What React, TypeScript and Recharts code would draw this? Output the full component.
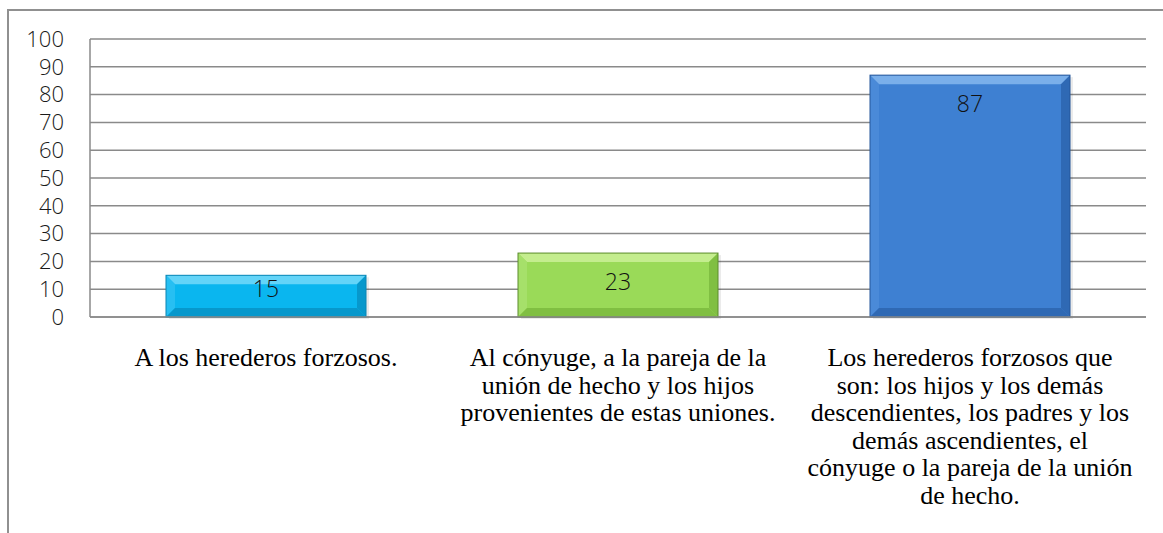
import React from 'react';
import { BarChart, Bar, XAxis, YAxis, CartesianGrid, LabelList } from 'recharts';

const categories = ['A', 'B', 'C'];
const values = [15, 23, 87];
const tickLabels: string[][] = [
  ['A los herederos forzosos.'],
  ['Al cónyuge, a la pareja de la', 'unión de hecho y los hijos', 'provenientes de estas uniones.'],
  [
    'Los herederos forzosos que',
    'son: los hijos y los demás',
    'descendientes, los padres y los',
    'demás ascendientes, el',
    'cónyuge o la pareja de la unión',
    'de hecho.',
  ],
];
const yTicks = [0, 10, 20, 30, 40, 50, 60, 70, 80, 90, 100];

const palettes = [
  { base: '#0AB6EF', light: '#63D4F8', side: '#27BFF2', dark: '#0798CC', edge: '#0A86B4' },
  { base: '#9ADA58', light: '#C4ED8E', side: '#A6E06A', dark: '#80BF42', edge: '#5C8C2C' },
  { base: '#3E80D2', light: '#7AAFEA', side: '#4A8AD8', dark: '#2F69B4', edge: '#24569A' },
];

const data = categories.map((c, i) => ({ key: c, value: values[i], idx: i }));

const BevelBar = (props: any) => {
  const { x, y, width: w, height: h, index } = props;
  const c = palettes[index % palettes.length];
  const b = Math.min(9, w / 4, h / 4);
  return (
    <g>
      <rect x={x + 3} y={y + 2} width={w} height={h} fill="rgba(0,0,0,0.08)" />
      <rect x={x} y={y} width={w} height={h} fill={c.base} />
      <polygon points={`${x},${y} ${x + w},${y} ${x + w - b},${y + b} ${x + b},${y + b}`} fill={c.light} />
      <polygon points={`${x},${y} ${x + b},${y + b} ${x + b},${y + h - b} ${x},${y + h}`} fill={c.side} />
      <polygon points={`${x + w},${y} ${x + w},${y + h} ${x + w - b},${y + h - b} ${x + w - b},${y + b}`} fill={c.dark} />
      <polygon points={`${x},${y + h} ${x + b},${y + h - b} ${x + w - b},${y + h - b} ${x + w},${y + h}`} fill={c.dark} />
      <rect x={x} y={y} width={w} height={h} fill="none" stroke={c.edge} strokeWidth={1} />
    </g>
  );
};

const ValueLabel = (props: any) => {
  const { x, y, width, height, value } = props;
  const cy = Math.min(y + 28, y + height - 29);
  return (
    <text
      x={x + width / 2}
      y={cy}
      textAnchor="middle"
      dominantBaseline="central"
      fontFamily="'Open Sans', sans-serif"
      fontWeight={300}
      fontSize={23}
      fill="#111"
    >
      {value}
    </text>
  );
};

const CategoryTick = (props: any) => {
  const { x, y, payload } = props;
  const lines = tickLabels[payload.index] || [];
  return (
    <text
      x={x}
      y={y + 41}
      textAnchor="middle"
      fontFamily="'Liberation Serif', 'Times New Roman', serif"
      fontSize={26}
      fill="#000"
    >
      {lines.map((l, i) => (
        <tspan key={i} x={x} dy={i === 0 ? 0 : 27.6}>
          {l}
        </tspan>
      ))}
    </text>
  );
};

export default function App() {
  return (
    <div style={{ position: 'fixed', left: 0, top: 0, width: 1163, height: 533, overflow: 'hidden', background: '#fff' }}>
      <div
        style={{
          position: 'absolute',
          left: 7,
          top: 9,
          width: 1300,
          height: 700,
          border: '2px solid #909090',
          boxSizing: 'border-box',
        }}
      />
      <div style={{ position: 'absolute', left: 0, top: 0 }}>
        <BarChart
          width={1163}
          height={533}
          data={data}
          margin={{ top: 39, right: 17, left: 30, bottom: 16 }}
          barSize={200}
        >
          <CartesianGrid vertical={false} stroke="#8a8a8a" strokeWidth={1.5} />
          <XAxis
            dataKey="key"
            axisLine={{ stroke: '#8a8a8a', strokeWidth: 1.5 }}
            tickLine={false}
            height={200}
            interval={0}
            tick={<CategoryTick />}
          />
          <YAxis
            domain={[0, 100]}
            ticks={yTicks}
            width={60}
            axisLine={{ stroke: '#8a8a8a', strokeWidth: 1.5 }}
            tickLine={false}
            tickMargin={20}
            tick={{ fontFamily: "'Open Sans', sans-serif", fontWeight: 300, fontSize: 22, fill: '#1a1a1a' }}
            interval={0}
          />
          <Bar dataKey="value" shape={<BevelBar />} isAnimationActive={false}>
            <LabelList dataKey="value" content={<ValueLabel />} />
          </Bar>
        </BarChart>
      </div>
    </div>
  );
}
